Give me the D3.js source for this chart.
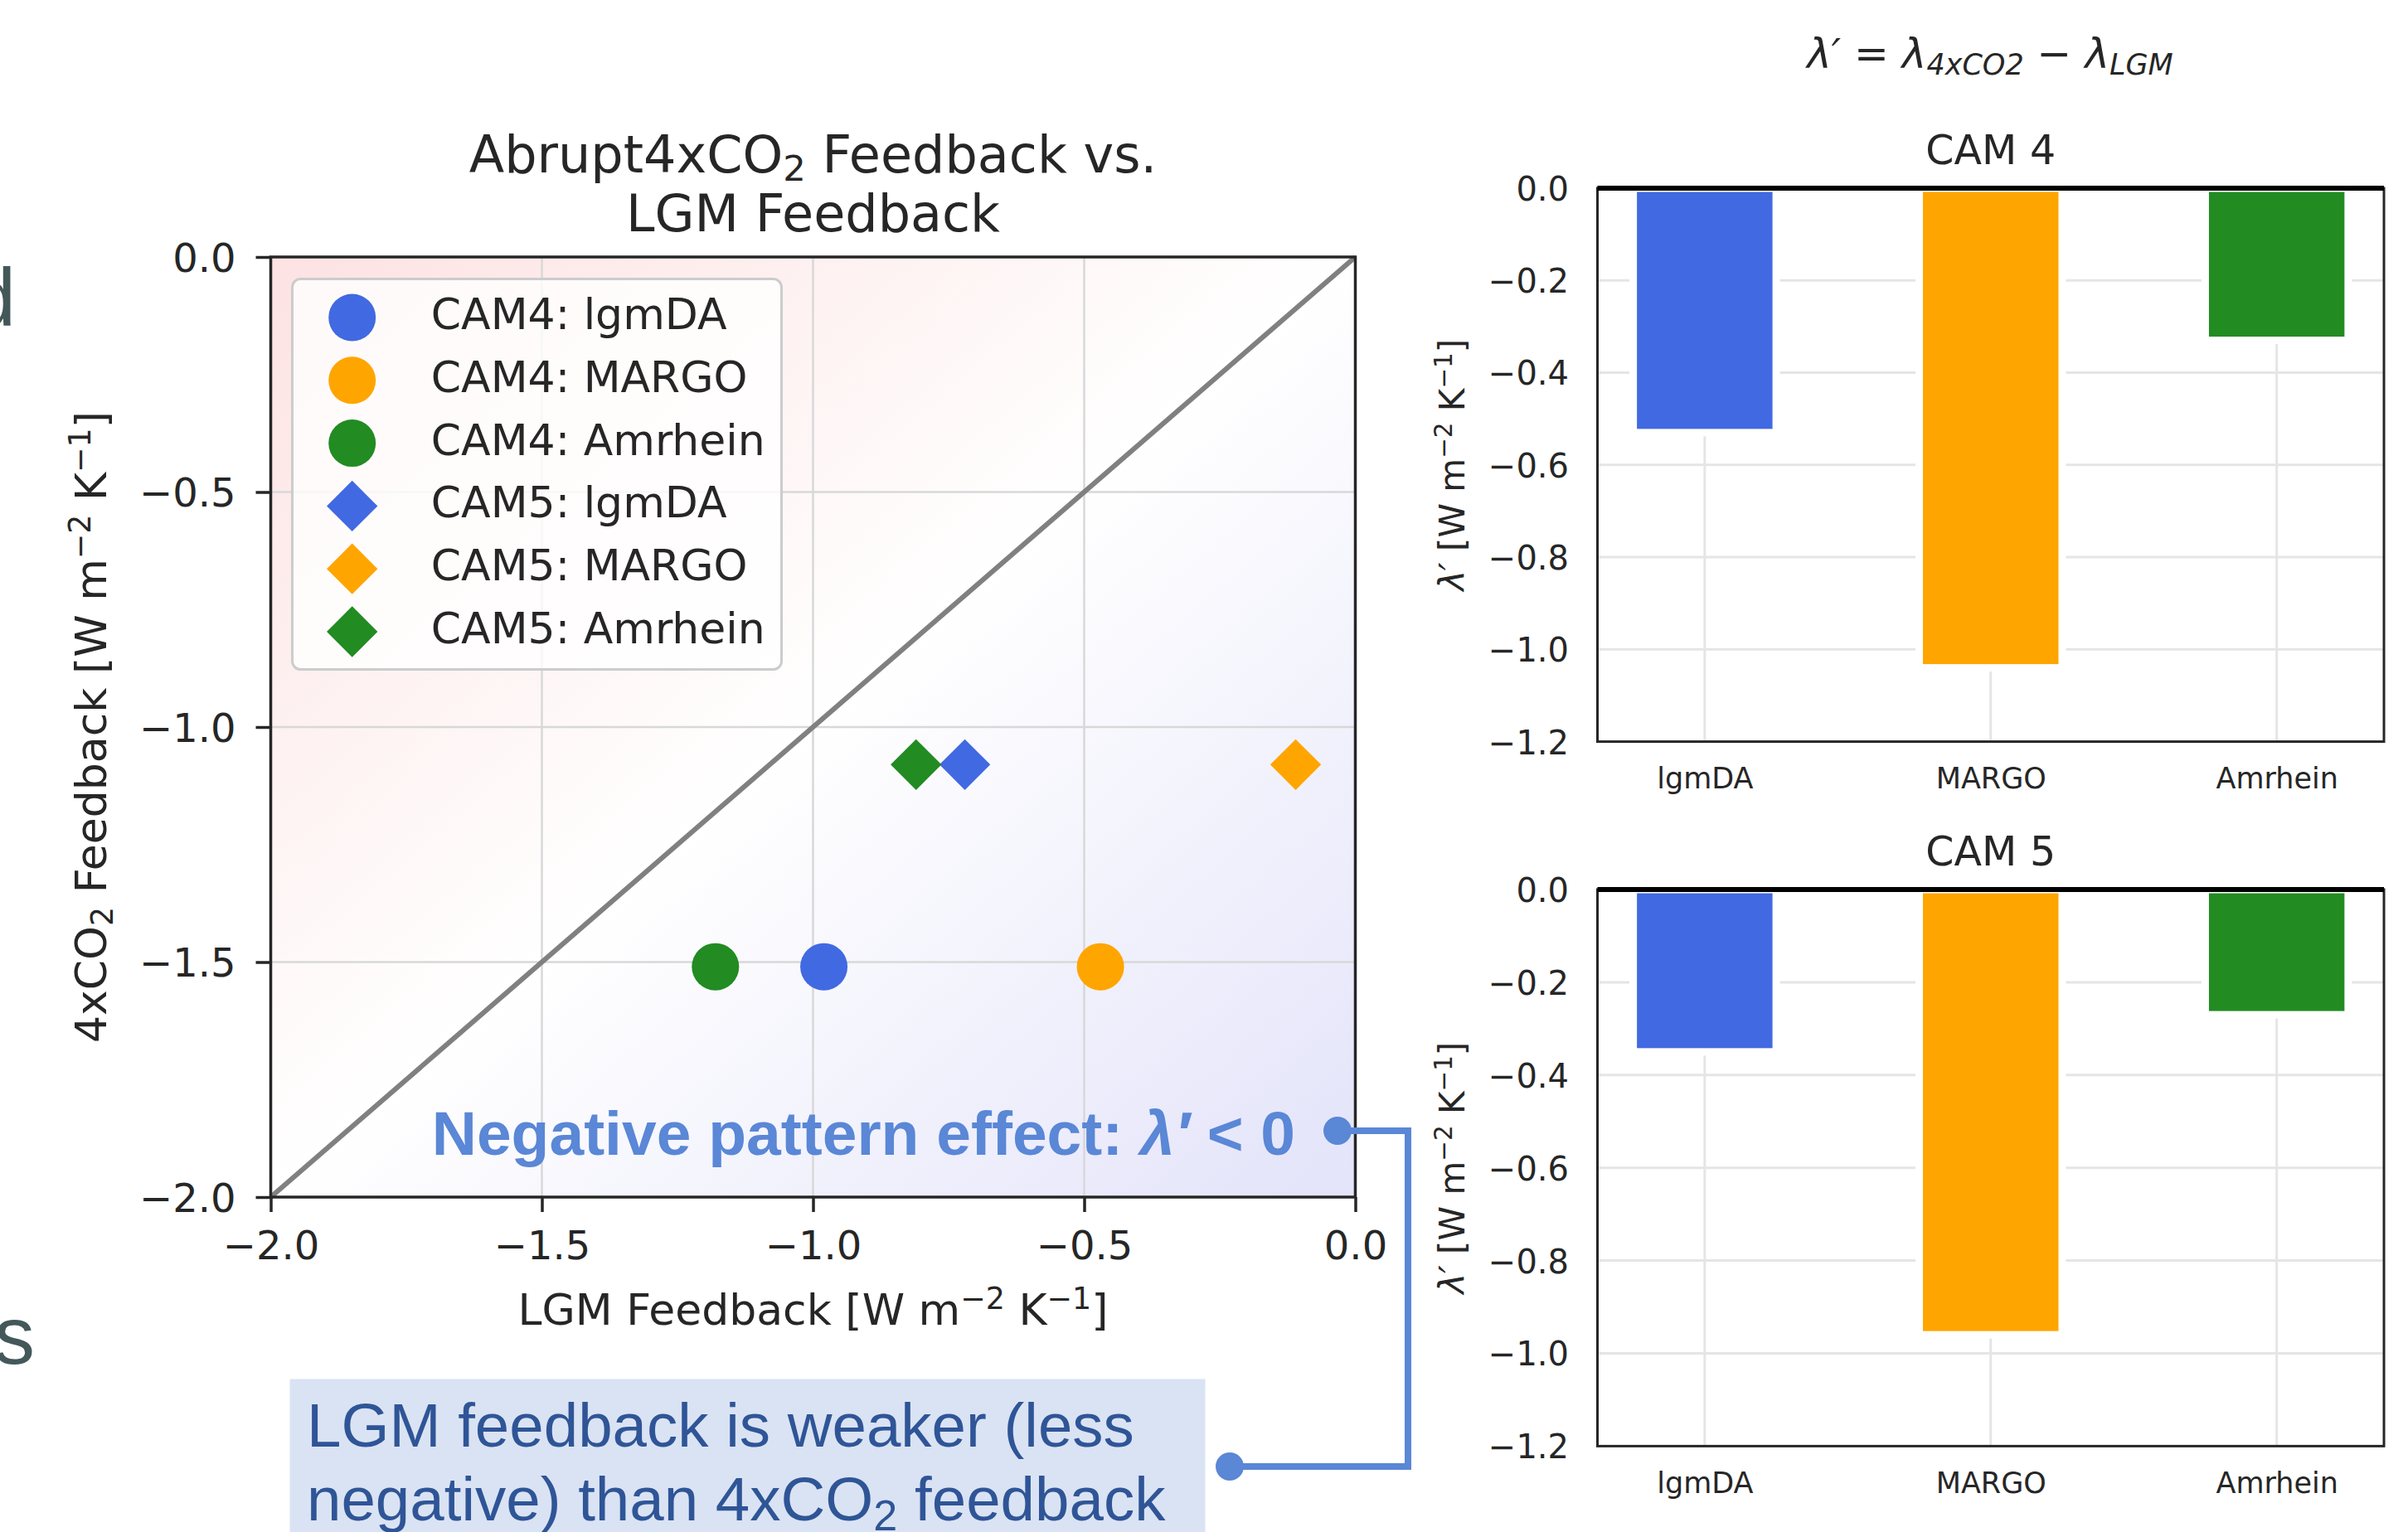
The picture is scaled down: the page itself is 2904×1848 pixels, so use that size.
<!DOCTYPE html>
<html>
<head>
<meta charset="utf-8">
<script src="https://cdn.jsdelivr.net/npm/d3@7"></script>
<style>
  body { margin: 0; background: #fff; }
  svg { display: block; }
  text { font-family: "DejaVu Sans", sans-serif; fill: #262626; }
  .slide { font-family: "Liberation Sans", Arial, sans-serif; }
</style>
</head>
<body>
<svg id="chart" width="2904" height="1848"></svg>
<script>
// values
const datasets = ['lgmDA', 'MARGO', 'Amrhein']
const colors = ['royalblue', 'orange', 'forestgreen']
const cam4Lgm = [-0.98, -0.47, -1.18]
const cam4Co2 = [-1.51, -1.51, -1.51]
const cam5Lgm = [-0.72, -0.11, -0.81]
const cam5Co2 = [-1.08, -1.08, -1.08]
const cam4Pattern = [-0.53, -1.04, -0.33]
const cam5Pattern = [-0.35, -0.96, -0.27]
const feedbackTicks = [-2.0, -1.5, -1.0, -0.5, 0.0]
const patternTicks = [0.0, -0.2, -0.4, -0.6, -0.8, -1.0, -1.2]

const ink = '#262626'
const noteBlue = '#5a87d6'
const fmt = d3.format('.1f')

const svg = d3.select('#chart')

// text with mathtext-like sub/superscripts: parts = [text, 'sup'|'sub'|null, italic]
function rich(sel, parts, size) {
	let shift = 0
	parts.forEach(([str, pos, it]) => {
		const target = pos === 'sup' ? -0.36 * size : pos === 'sub' ? 0.16 * size : 0
		sel.append('tspan')
			.attr('dy', target - shift)
			.attr('font-size', pos ? size * 0.7 : size)
			.attr('font-style', it ? 'italic' : null)
			.text(str)
		shift = target
	})
	return sel
}

// ---------- scatter panel ----------
const sc = {left: 326.5, right: 1634.5, top: 310, bottom: 1444}
const x = d3.scaleLinear().domain([-2, 0]).range([sc.left, sc.right])
const y = d3.scaleLinear().domain([-2, 0]).range([sc.bottom, sc.top])

const defs = svg.append('defs')
const grad = defs.append('linearGradient')
	.attr('id', 'bg-grad')
	.attr('x1', 0).attr('y1', 0).attr('x2', 1).attr('y2', 1)
grad.append('stop').attr('offset', 0).attr('stop-color', '#fde2e2')
grad.append('stop').attr('offset', 0.5).attr('stop-color', '#ffffff')
grad.append('stop').attr('offset', 1).attr('stop-color', '#e3e3fa')

svg.append('rect')
	.attr('x', sc.left).attr('y', sc.top)
	.attr('width', sc.right - sc.left).attr('height', sc.bottom - sc.top)
	.attr('fill', 'url(#bg-grad)')

const inner = feedbackTicks.slice(1, -1)
svg.append('g').selectAll('line')
	.data(inner).enter()
	.append('line')
	.attr('x1', d => x(d)).attr('x2', d => x(d))
	.attr('y1', sc.top).attr('y2', sc.bottom)
	.attr('stroke', '#d8d8d8').attr('stroke-width', 2.5)
svg.append('g').selectAll('line')
	.data(inner).enter()
	.append('line')
	.attr('y1', d => y(d)).attr('y2', d => y(d))
	.attr('x1', sc.left).attr('x2', sc.right)
	.attr('stroke', '#d8d8d8').attr('stroke-width', 2.5)

// one-to-one line
svg.append('line')
	.attr('x1', x(-2)).attr('y1', y(-2))
	.attr('x2', x(0)).attr('y2', y(0))
	.attr('stroke', 'gray').attr('stroke-width', 6)

const points = []
datasets.forEach((d, i) => {
	points.push({label: 'CAM4: ' + d, lgm: cam4Lgm[i], co2: cam4Co2[i], color: colors[i], type: d3.symbolCircle})
})
datasets.forEach((d, i) => {
	points.push({label: 'CAM5: ' + d, lgm: cam5Lgm[i], co2: cam5Co2[i], color: colors[i], type: d3.symbolSquare})
})

function markerPath(d) {
	return d.type === d3.symbolCircle ? d3.symbol(d3.symbolCircle, 2550)() : d3.symbol(d3.symbolSquare, 1880)()
}
function markerTransform(px, py, d) {
	return `translate(${px},${py})` + (d.type === d3.symbolSquare ? ' rotate(45)' : '')
}

svg.append('g').selectAll('path')
	.data(points).enter()
	.append('path')
	.attr('d', markerPath)
	.attr('transform', d => markerTransform(x(d.lgm), y(d.co2), d))
	.attr('fill', d => d.color)

// legend
const leg = {x: 352.5, y: 336.5, w: 590, h: 471, row0: 383, step: 75.8}
svg.append('rect')
	.attr('x', leg.x).attr('y', leg.y)
	.attr('width', leg.w).attr('height', leg.h)
	.attr('rx', 10)
	.attr('fill', 'white').attr('fill-opacity', 0.8)
	.attr('stroke', '#cccccc').attr('stroke-width', 3)
const legRows = svg.append('g').selectAll('g')
	.data(points).enter()
	.append('g')
	.attr('transform', (d, i) => `translate(0,${leg.row0 + i * leg.step})`)
legRows.append('path')
	.attr('d', markerPath)
	.attr('transform', d => markerTransform(424.7, 0, d))
	.attr('fill', d => d.color)
legRows.append('text')
	.attr('x', 519.8).attr('y', 14)
	.attr('font-size', 52)
	.text(d => d.label)

// spines
svg.append('rect')
	.attr('x', sc.left).attr('y', sc.top)
	.attr('width', sc.right - sc.left).attr('height', sc.bottom - sc.top)
	.attr('fill', 'none').attr('stroke', ink).attr('stroke-width', 3.5)

function styleAxis(g, size) {
	g.attr('color', ink).attr('font-size', size).attr('font-family', '"DejaVu Sans", sans-serif')
	g.select('.domain').remove()
	g.selectAll('line').attr('stroke-width', 3.5)
}

svg.append('g')
	.attr('transform', `translate(0,${sc.bottom})`)
	.call(d3.axisBottom(x).tickValues(feedbackTicks).tickFormat(fmt).tickSize(18).tickPadding(23))
	.call(g => styleAxis(g, 48))
svg.append('g')
	.attr('transform', `translate(${sc.left},0)`)
	.call(d3.axisLeft(y).tickValues(feedbackTicks).tickFormat(fmt).tickSize(18).tickPadding(24))
	.call(g => styleAxis(g, 48))
	.call(g => g.selectAll('text').attr('dy', '0.36em'))

rich(svg.append('text').attr('x', (sc.left + sc.right) / 2).attr('y', 1598).attr('text-anchor', 'middle'),
	[['LGM Feedback [W m'], ['−2', 'sup'], [' K'], ['−1', 'sup'], [']']], 52)
rich(svg.append('text')
	.attr('transform', `translate(128,${(sc.top + sc.bottom) / 2}) rotate(-90)`)
	.attr('text-anchor', 'middle'),
	[['4xCO'], ['2', 'sub'], [' Feedback [W m'], ['−2', 'sup'], [' K'], ['−1', 'sup'], [']']], 52)

const titleX = (sc.left + sc.right) / 2
rich(svg.append('text').attr('x', titleX).attr('y', 208).attr('text-anchor', 'middle'),
	[['Abrupt4xCO'], ['2', 'sub'], [' Feedback vs.']], 62)
svg.append('text').attr('x', titleX).attr('y', 279)
	.attr('text-anchor', 'middle').attr('font-size', 62)
	.text('LGM Feedback')

// ---------- bar panels ----------
const bx = d3.scaleLinear().domain([-0.375, 2.375]).range([1926.5, 2875])

function barPanel(values, name, top, bottom) {
	const by = d3.scaleLinear().domain([-1.2, 0]).range([bottom, top])
	const g = svg.append('g')
	g.selectAll('.hgrid')
		.data(patternTicks.slice(1, -1)).enter()
		.append('line')
		.attr('x1', bx.range()[0]).attr('x2', bx.range()[1])
		.attr('y1', d => by(d)).attr('y2', d => by(d))
		.attr('stroke', '#e5e5e5').attr('stroke-width', 3)
	g.selectAll('.vgrid')
		.data(datasets).enter()
		.append('line')
		.attr('x1', (d, i) => bx(i)).attr('x2', (d, i) => bx(i))
		.attr('y1', top).attr('y2', bottom)
		.attr('stroke', '#e5e5e5').attr('stroke-width', 3)
	g.selectAll('.bar')
		.data(values).enter()
		.append('rect')
		.attr('x', (d, i) => bx(i - 0.25))
		.attr('width', bx(0.5) - bx(0))
		.attr('y', by(0))
		.attr('height', d => by(d) - by(0))
		.attr('fill', (d, i) => colors[i])
		.attr('stroke', 'white').attr('stroke-width', 9)
	g.append('rect')
		.attr('x', bx.range()[0]).attr('y', top)
		.attr('width', bx.range()[1] - bx.range()[0]).attr('height', bottom - top)
		.attr('fill', 'none').attr('stroke', ink).attr('stroke-width', 3)
	// zero line
	g.append('line')
		.attr('x1', bx.range()[0]).attr('x2', bx.range()[1])
		.attr('y1', by(0)).attr('y2', by(0))
		.attr('stroke', 'black').attr('stroke-width', 6)

	g.append('g')
		.attr('transform', `translate(${bx.range()[0]},0)`)
		.call(d3.axisLeft(by).tickValues(patternTicks).tickFormat(fmt).tickSize(0).tickPadding(34.5))
		.call(a => styleAxis(a, 40))
		.call(a => a.selectAll('text').attr('dy', '0.36em'))
	g.append('g')
		.attr('transform', `translate(0,${bottom})`)
		.call(d3.axisBottom(bx).tickValues(d3.range(datasets.length)).tickFormat(i => datasets[i]).tickSize(0).tickPadding(32))
		.call(a => styleAxis(a, 35))

	g.append('text')
		.attr('x', (bx.range()[0] + bx.range()[1]) / 2).attr('y', top - 29)
		.attr('text-anchor', 'middle').attr('font-size', 49)
		.text(name)
	rich(g.append('text')
		.attr('transform', `translate(1766,${(top + bottom) / 2}) rotate(-90)`)
		.attr('text-anchor', 'middle'),
		[['λ′', null, true], [' [W m'], ['−2', 'sup'], [' K'], ['−1', 'sup'], [']']], 42)
}

barPanel(cam4Pattern, 'CAM 4', 227, 894.6)
barPanel(cam5Pattern, 'CAM 5', 1073, 1744.4)

rich(svg.append('text').attr('x', 2400).attr('y', 82).attr('text-anchor', 'middle'),
	[['λ′', null, true], [' = '], ['λ', null, true], ['4xCO2', 'sub', true], [' − '], ['λ', null, true], ['LGM', 'sub', true]], 50)

// ---------- slide annotations ----------
svg.append('text')
	.attr('class', 'slide')
	.attr('x', 19).attr('y', 392).attr('text-anchor', 'end')
	.attr('font-size', 98).style('fill', '#44585a')
	.text('d')
svg.append('text')
	.attr('class', 'slide')
	.attr('x', -7).attr('y', 1645)
	.attr('font-size', 98).style('fill', '#44585a')
	.text('s')

const note = svg.append('text')
	.attr('class', 'slide')
	.attr('x', 1562).attr('y', 1393)
	.attr('text-anchor', 'end')
	.attr('font-weight', 'bold')
	.style('fill', noteBlue)
rich(note, [['Negative pattern effect: '], ['λ′', null, true], [' < 0']], 75)

svg.append('rect')
	.attr('x', 349.5).attr('y', 1663.5)
	.attr('width', 1104).attr('height', 200)
	.attr('fill', '#dae3f3')
const box = svg.append('text').attr('class', 'slide').style('fill', '#2f5597')
box.append('tspan').attr('x', 370).attr('y', 1745).attr('font-size', 74.5).text('LGM feedback is weaker (less')
rich(box.append('tspan').attr('x', 370).attr('y', 1834),
	[['negative) than 4xCO'], ['2', 'sub'], [' feedback']], 74.5)

svg.append('path')
	.attr('d', d3.line()([[1613, 1364], [1698, 1364], [1698, 1769], [1483, 1769]]))
	.attr('fill', 'none')
	.attr('stroke', noteBlue).attr('stroke-width', 8)
svg.selectAll('circle.end')
	.data([[1613, 1364], [1483, 1769]]).enter()
	.append('circle')
	.attr('cx', d => d[0]).attr('cy', d => d[1])
	.attr('r', 17)
	.attr('fill', noteBlue)
</script>
</body>
</html>
